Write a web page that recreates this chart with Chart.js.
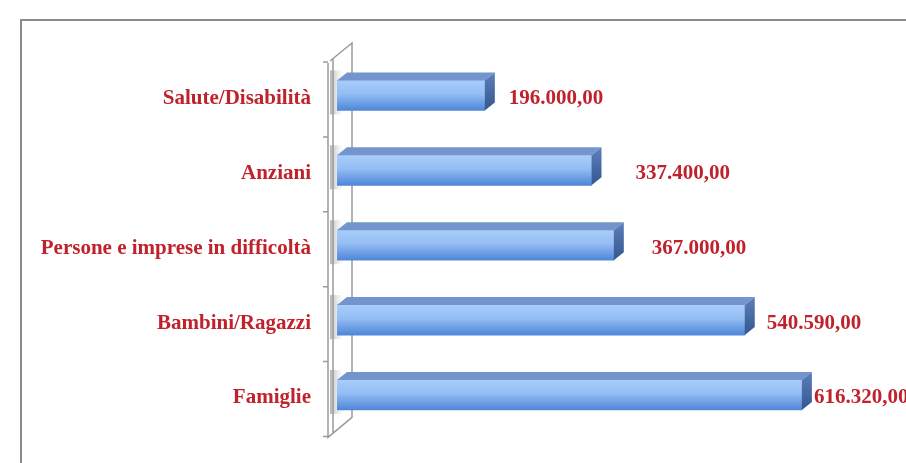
<!DOCTYPE html>
<html>
<head>
<meta charset="utf-8">
<script src="https://cdn.jsdelivr.net/npm/chart.js@4.4.1/dist/chart.umd.min.js"></script>
<style>
    html, body { margin: 0; padding: 0; background: #fff; }
    canvas { display: block; }
</style>
</head>
<body>
<canvas id="chartCanvas" width="906" height="463"></canvas>
<script>
// data
const categories = ['Salute/Disabilità', 'Anziani', 'Persone e imprese in difficoltà', 'Bambini/Ragazzi', 'Famiglie'];
const values = [196000, 337400, 367000, 540590, 616320];
const axisMax = 700000;

const RED = '#c0222c';
const FONT = '"Liberation Serif", "DejaVu Serif", serif';
const DX = 10, DY = 8;          // bar depth
const labelGap = [24, 44, 38, 22, 12];

function fmt(v) {
    const s = Math.round(v).toString().replace(/\B(?=(\d{3})+(?!\d))/g, '.');
    return s + ',00';
}

// outer frame + 3d wall, drawn behind bars
const wallPlugin = {
    id: 'wall',
    beforeDatasetsDraw(chart) {
        const c = chart.ctx;
        const area = chart.chartArea;
        const yScale = chart.scales.y;
        c.save();

        // frame
        c.strokeStyle = '#8a8a8a';
        c.lineWidth = 2;
        c.beginPath();
        c.moveTo(21, 463);
        c.lineTo(21, 20);
        c.lineTo(906, 20);
        c.stroke();

        const fx = area.left - 9, top = area.top + 5, bot = area.bottom + 5;
        const wx = 24, wy = 20;

        // shadows of bars on the wall
        const meta = chart.getDatasetMeta(0);
        meta.data.forEach(bar => {
            const h = bar.height / 2;
            const g = c.createLinearGradient(fx + 2, 0, area.left + 6, 0);
            g.addColorStop(0, 'rgba(160,160,160,0.8)');
            g.addColorStop(1, 'rgba(230,230,230,0.1)');
            c.fillStyle = g;
            c.fillRect(fx + 2, bar.y - h - DY - 2, area.left + 6 - fx - 2, 2 * h + DY + 6);
        });

        c.strokeStyle = '#9a9a9a';
        c.lineWidth = 1.5;
        c.beginPath();
        // front edge
        c.moveTo(fx, top);
        c.lineTo(fx, bot);
        c.lineTo(fx + wx, bot - wy);
        c.lineTo(fx + wx, top - wy);
        c.lineTo(fx + 2, top - 2);
        // inner thin edge
        c.moveTo(fx + 5, top - 4);
        c.lineTo(fx + 5, bot - 4);
        c.stroke();

        // small ticks at category boundaries
        c.beginPath();
        for (let i = 0; i <= categories.length; i++) {
            let y;
            if (i === 0) y = area.top;
            else if (i === categories.length) y = area.bottom;
            else y = (yScale.getPixelForValue(i - 1) + yScale.getPixelForValue(i)) / 2;
            c.moveTo(fx - 5, y + 4);
            c.lineTo(fx, y + 4);
        }
        c.stroke();
        c.restore();
    }
};

// top and side faces + value labels
const boxPlugin = {
    id: 'box3d',
    afterDatasetsDraw(chart) {
        const c = chart.ctx;
        const meta = chart.getDatasetMeta(0);
        c.save();
        meta.data.forEach((bar, i) => {
            const x0 = bar.base, x1 = bar.x;
            const yt = bar.y - bar.height / 2, yb = bar.y + bar.height / 2;

            // top face
            c.fillStyle = '#7394cd';
            c.beginPath();
            c.moveTo(x0, yt);
            c.lineTo(x0 + DX, yt - DY);
            c.lineTo(x1 + DX, yt - DY);
            c.lineTo(x1, yt);
            c.closePath();
            c.fill();

            // side face
            const sg = c.createLinearGradient(0, yt - DY, 0, yb);
            sg.addColorStop(0, '#5d80bd');
            sg.addColorStop(1, '#33568e');
            c.fillStyle = sg;
            c.beginPath();
            c.moveTo(x1, yt);
            c.lineTo(x1 + DX, yt - DY);
            c.lineTo(x1 + DX, yb - DY);
            c.lineTo(x1, yb);
            c.closePath();
            c.fill();

            // value label
            c.fillStyle = RED;
            c.font = 'bold 21px ' + FONT;
            c.textAlign = 'left';
            c.textBaseline = 'middle';
            c.fillText(fmt(values[i]), x1 + labelGap[i], bar.y + 3);
        });
        c.restore();
    }
};

new Chart(document.getElementById('chartCanvas'), {
    type: 'bar',
    data: {
        labels: categories,
        datasets: [{
            data: values,
            barThickness: 30,
            borderWidth: 0,
            backgroundColor(ctx) {
                const chart = ctx.chart;
                const y = chart.scales.y;
                if (ctx.type !== 'data' || !y) return '#86b0ee';
                const cy = y.getPixelForValue(ctx.dataIndex);
                if (!isFinite(cy)) return '#86b0ee';
                const g = chart.ctx.createLinearGradient(0, cy - 15, 0, cy + 15);
                g.addColorStop(0, '#a9cdfb');
                g.addColorStop(0.45, '#93bdf4');
                g.addColorStop(1, '#4f86d8');
                return g;
            }
        }]
    },
    options: {
        indexAxis: 'y',
        responsive: false,
        animation: false,
        layout: {
            padding: { left: 0, top: 58, right: 41, bottom: 9 }
        },
        scales: {
            x: {
                display: false,
                min: 0,
                max: axisMax
            },
            y: {
                grid: { display: false },
                border: { display: false },
                afterFit(scale) {
                    scale.width = 337;
                },
                ticks: {
                    padding: 18,
                    labelOffset: 3,
                    color: RED,
                    font: { family: FONT, size: 21, weight: 'bold' }
                }
            }
        },
        plugins: {
            legend: { display: false },
            tooltip: { enabled: false }
        }
    },
    plugins: [wallPlugin, boxPlugin]
});
</script>
</body>
</html>
